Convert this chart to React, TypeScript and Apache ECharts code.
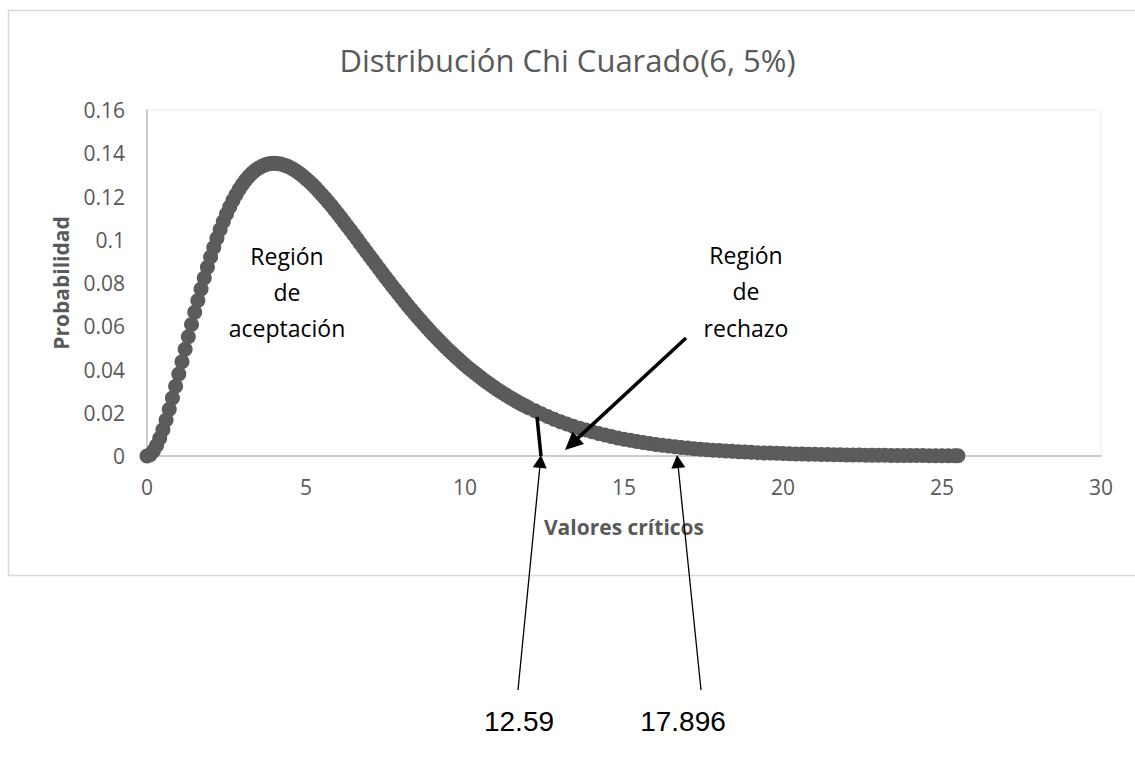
import React, { useEffect, useRef } from "react";
import * as echarts from "echarts";

// Critical values and chi-square (6 df) density
const xValues = [
  0, 0.1, 0.2, 0.3, 0.4, 0.5, 0.6, 0.7, 0.8, 0.9,
  1, 1.1, 1.2, 1.3, 1.4, 1.5, 1.6, 1.7, 1.8, 1.9,
  2, 2.1, 2.2, 2.3, 2.4, 2.5, 2.6, 2.7, 2.8, 2.9,
  3, 3.1, 3.2, 3.3, 3.4, 3.5, 3.6, 3.7, 3.8, 3.9,
  4, 4.1, 4.2, 4.3, 4.4, 4.5, 4.6, 4.7, 4.8, 4.9,
  5, 5.1, 5.2, 5.3, 5.4, 5.5, 5.6, 5.7, 5.8, 5.9,
  6, 6.1, 6.2, 6.3, 6.4, 6.5, 6.6, 6.7, 6.8, 6.9,
  7, 7.1, 7.2, 7.3, 7.4, 7.5, 7.6, 7.7, 7.8, 7.9,
  8, 8.1, 8.2, 8.3, 8.4, 8.5, 8.6, 8.7, 8.8, 8.9,
  9, 9.1, 9.2, 9.3, 9.4, 9.5, 9.6, 9.7, 9.8, 9.9,
  10, 10.1, 10.2, 10.3, 10.4, 10.5, 10.6, 10.7, 10.8, 10.9,
  11, 11.1, 11.2, 11.3, 11.4, 11.5, 11.6, 11.7, 11.8, 11.9, 12,
  12.2, 12.4, 12.6, 12.8, 13, 13.2, 13.4, 13.6, 13.8, 14,
  14.2, 14.4, 14.6, 14.8, 15, 15.2, 15.4, 15.6, 15.8, 16,
  16.2, 16.4, 16.6, 16.8, 17, 17.2, 17.4, 17.6, 17.8, 18,
  18.2, 18.4, 18.6, 18.8, 19, 19.2, 19.4, 19.6, 19.8, 20,
  20.2, 20.4, 20.6, 20.8, 21, 21.2, 21.4, 21.6, 21.8, 22,
  22.2, 22.4, 22.6, 22.8, 23, 23.2, 23.4, 23.6, 23.8, 24,
  24.2, 24.4, 24.6, 24.8, 25, 25.2, 25.4, 25.5,
];

const probValues = [
  0, 0.00059, 0.00226, 0.00484, 0.00819, 0.01217, 0.01667, 0.02158, 0.02681, 0.03228,
  0.03791, 0.04363, 0.04939, 0.05514, 0.06083, 0.06643, 0.07189, 0.0772, 0.08233, 0.08726,
  0.09197, 0.09645, 0.10069, 0.10469, 0.10843, 0.11192, 0.11515, 0.11812, 0.12083, 0.1233,
  0.12551, 0.12748, 0.12921, 0.13071, 0.13199, 0.13305, 0.13389, 0.13454, 0.13499, 0.13525,
  0.13534, 0.13525, 0.13501, 0.13461, 0.13407, 0.1334, 0.13259, 0.13167, 0.13063, 0.1295,
  0.12826, 0.12693, 0.12552, 0.12404, 0.12248, 0.12086, 0.11919, 0.11746, 0.11569, 0.11387,
  0.11202, 0.11014, 0.10823, 0.1063, 0.10435, 0.10239, 0.10041, 0.09843, 0.09645, 0.09446,
  0.09248, 0.0905, 0.08853, 0.08657, 0.08462, 0.08268, 0.08076, 0.07886, 0.07697, 0.07511,
  0.07326, 0.07144, 0.06965, 0.06787, 0.06613, 0.06441, 0.06272, 0.06106, 0.05942, 0.05782,
  0.05624, 0.05469, 0.05318, 0.05169, 0.05023, 0.0488, 0.04741, 0.04603, 0.0447, 0.04339,
  0.04211, 0.04086, 0.03965, 0.03845, 0.0373, 0.03616, 0.03506, 0.03398, 0.03293, 0.0319,
  0.03091, 0.02993, 0.02899, 0.02808, 0.02718, 0.02631, 0.02547, 0.02464, 0.02384, 0.02307, 0.02231,
  0.02087, 0.0195, 0.01822, 0.01702, 0.01588, 0.01482, 0.01381, 0.01288, 0.012, 0.01117,
  0.0104, 0.00968, 0.009, 0.00837, 0.00778, 0.00723, 0.00671, 0.00623, 0.00578, 0.00537,
  0.00498, 0.00462, 0.00428, 0.00397, 0.00368, 0.0034, 0.00315, 0.00292, 0.0027, 0.0025,
  0.00231, 0.00214, 0.00198, 0.00183, 0.00169, 0.00156, 0.00144, 0.00133, 0.00123, 0.00114,
  0.00105, 0.00097, 0.00089, 0.00082, 0.00076, 0.0007, 0.00065, 0.0006, 0.00055, 0.00051,
  0.00047, 0.00043, 0.0004, 0.00036, 0.00034, 0.00031, 0.00028, 0.00026, 0.00024, 0.00022,
  0.0002, 0.00019, 0.00017, 0.00016, 0.00015, 0.00013, 0.00012, 0.00012,
];

const titleText = "Distribución Chi Cuarado(6, 5%)";
const xAxisName = "Valores críticos";
const yAxisName = "Probabilidad";
const acceptLines = ["Región", "de", "aceptación"];
const rejectLines = ["Región", "de", "rechazo"];
const criticalLabels = ["12.59", "17.896"];

const FONT = "'Open Sans', 'DejaVu Sans', sans-serif";
const AXIS_GREY = "#595959";

function arrow(
  x1: number,
  y1: number,
  x2: number,
  y2: number,
  lw: number,
  headLen: number,
  headW: number
) {
  const dx = x2 - x1;
  const dy = y2 - y1;
  const len = Math.sqrt(dx * dx + dy * dy);
  const ux = dx / len;
  const uy = dy / len;
  const bx = x2 - ux * headLen;
  const by = y2 - uy * headLen;
  const px = -uy;
  const py = ux;
  return [
    {
      type: "line",
      shape: { x1, y1, x2: bx + ux * 2, y2: by + uy * 2 },
      style: { stroke: "#000", lineWidth: lw },
      z: 100,
    },
    {
      type: "polygon",
      shape: {
        points: [
          [x2, y2],
          [bx + (px * headW) / 2, by + (py * headW) / 2],
          [bx - (px * headW) / 2, by - (py * headW) / 2],
        ],
      },
      style: { fill: "#000" },
      z: 100,
    },
  ];
}

function textLines(lines: string[], cx: number, ys: number[]) {
  return lines.map((t, i) => ({
    type: "text",
    x: cx,
    y: ys[i],
    z: 100,
    style: {
      text: t,
      fill: "#000",
      font: `23px ${FONT}`,
      textAlign: "center",
      textVerticalAlign: "middle",
    },
  }));
}

export default function App() {
  const ref = useRef<HTMLDivElement>(null);

  useEffect(() => {
    document.body.style.margin = "0";
    const chart = echarts.init(ref.current!, null, { renderer: "svg" });

    const data = xValues.map((x, i) => [x, probValues[i]]);

    const graphics: any[] = [
      {
        type: "rect",
        shape: { x: 8.5, y: 10.5, width: 1160, height: 565 },
        style: { fill: "none", stroke: "#d9d9d9", lineWidth: 1.5 },
        z: -10,
        silent: true,
      },
      ...textLines(acceptLines, 287, [256, 292, 328]),
      ...textLines(rejectLines, 746, [255, 291, 328]),
      {
        type: "line",
        shape: { x1: 537, y1: 417, x2: 541, y2: 456 },
        style: { stroke: "#000", lineWidth: 3.5 },
        z: 100,
      },
      ...arrow(686, 338, 565, 450, 3.5, 18, 17),
      ...arrow(518, 690, 541, 455, 1.3, 13, 14),
      ...arrow(701, 690, 677, 455, 1.3, 13, 14),
      {
        type: "text",
        x: 519,
        y: 721,
        z: 100,
        style: {
          text: criticalLabels[0],
          fill: "#000",
          font: "28px 'Liberation Sans', Arial, sans-serif",
          textAlign: "center",
          textVerticalAlign: "middle",
        },
      },
      {
        type: "text",
        x: 683,
        y: 721,
        z: 100,
        style: {
          text: criticalLabels[1],
          fill: "#000",
          font: "28px 'Liberation Sans', Arial, sans-serif",
          textAlign: "center",
          textVerticalAlign: "middle",
        },
      },
    ];

    chart.setOption({
      animation: false,
      backgroundColor: "#fff",
      textStyle: { fontFamily: FONT },
      title: {
        text: titleText,
        left: "center",
        top: 39,
        textStyle: {
          fontFamily: FONT,
          fontSize: 31,
          fontWeight: "normal",
          color: AXIS_GREY,
        },
      },
      grid: {
        left: 147,
        top: 110,
        right: 34,
        bottom: 302,
        show: true,
        borderColor: "#ebebf0",
        borderWidth: 1,
        backgroundColor: "transparent",
      },
      xAxis: {
        type: "value",
        min: 0,
        max: 30,
        interval: 5,
        name: xAxisName,
        nameLocation: "middle",
        nameGap: 60,
        nameTextStyle: {
          fontFamily: FONT,
          fontSize: 21,
          fontWeight: "bold",
          color: AXIS_GREY,
        },
        axisLine: { show: true, lineStyle: { color: "#bfbfbf", width: 1.5 } },
        axisTick: { show: false },
        splitLine: { show: false },
        axisLabel: { fontSize: 21, color: AXIS_GREY, margin: 20, fontFamily: FONT },
      },
      yAxis: {
        type: "value",
        min: 0,
        max: 0.16,
        interval: 0.02,
        name: yAxisName,
        nameLocation: "middle",
        nameRotate: 90,
        nameGap: 76,
        nameTextStyle: {
          fontFamily: FONT,
          fontSize: 21,
          fontWeight: "bold",
          color: AXIS_GREY,
        },
        axisLine: { show: true, lineStyle: { color: "#bfbfbf", width: 1.5 } },
        axisTick: { show: false },
        splitLine: { show: false },
        axisLabel: { fontSize: 21, color: AXIS_GREY, margin: 22, fontFamily: FONT },
      },
      series: [
        {
          type: "scatter",
          data,
          symbol: "circle",
          symbolSize: 15,
          clip: false,
          itemStyle: { color: "#5b5b5b", opacity: 1 },
          emphasis: { disabled: true },
          z: 5,
        },
      ],
      graphic: graphics,
    });

    return () => chart.dispose();
  }, []);

  return <div ref={ref} style={{ width: 1135, height: 758 }} />;
}
